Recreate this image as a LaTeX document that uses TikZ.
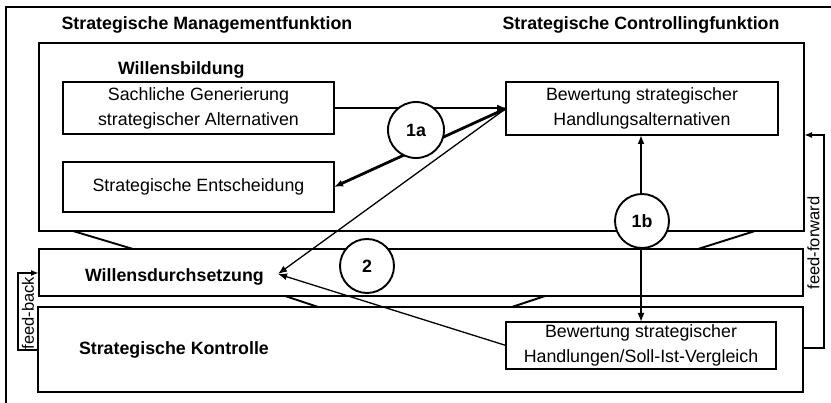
\documentclass[tikz,border=0pt]{standalone}
\usepackage{fontspec}
\setmainfont{Liberation Sans}
\usetikzlibrary{arrows.meta,calc}
\begin{document}
\begin{tikzpicture}[x=1pt,y=-1pt,
  every node/.style={inner sep=0pt,outer sep=0pt,font=\fontsize{17.8}{25}\selectfont},
  bigbox/.style={draw,line width=1.9pt},
  box/.style={draw,fill=white,line width=1.9pt,align=center},
  title/.style={font=\fontsize{17.8}{25}\selectfont\bfseries},
  lbl/.style={font=\fontsize{16.5}{20}\selectfont,rotate=90},
  circ/.style={circle,draw,fill=white,line width=1.9pt,font=\fontsize{17.8}{25}\selectfont\bfseries},
  trap/.style={line width=1.9pt},
  thickarr/.style={line width=2.8pt,-{Latex[length=9pt,width=7pt]}},
  thinarr/.style={line width=1.3pt,-{Latex[length=9pt,width=7pt]}},
  fbarr/.style={line width=2.1pt,-{Latex[length=8pt,width=6pt]}}
]
\useasboundingbox (0,0) rectangle (831,403);
% outer frame (cropped at right and bottom)
\draw[line width=1.7pt] (6,403) -- (6,7) -- (831,7);

% large bands
\node[bigbox,minimum width=765pt,minimum height=188pt] (wb) at (421.5,137) {};
\node[bigbox,minimum width=764pt,minimum height=47pt] (wd) at (421,272.5) {};
\node[bigbox,minimum width=765pt,minimum height=85pt] (sk) at (420.5,349.5) {};

% titles
\node[title,anchor=base] (tm) at (207,30) {Strategische Managementfunktion};
\node[title,anchor=base] (tc) at (641,30) {Strategische Controllingfunktion};
\node[title,anchor=base west] (lwb) at (118,74.5) {Willensbildung};
\node[title,anchor=base west] (lwd) at (85,282) {Willensdurchsetzung};
\node[title,anchor=base west] (lsk) at (79,355) {Strategische Kontrolle};

% trapezoid lines between bands
\coordinate (t1) at (73,231);  \coordinate (t2) at (133,249);
\coordinate (t3) at (755,231); \coordinate (t4) at (698,249);
\coordinate (t5) at (285,296); \coordinate (t6) at (318,307);
\coordinate (t7) at (545,296); \coordinate (t8) at (512,307);
\draw[trap] (t1) -- (t2);
\draw[trap] (t3) -- (t4);
\draw[trap] (t5) -- (t6);
\draw[trap] (t7) -- (t8);

% inner boxes
\node[box,minimum width=271pt,minimum height=52pt] (sach) at (198.5,108) {Sachliche Generierung\\strategischer Alternativen};
\node[box,minimum width=271pt,minimum height=50pt] (ent) at (198.5,187) {Strategische Entscheidung};
\node[box,minimum width=272pt,minimum height=53pt] (bew1) at (642,108.5) {Bewertung strategischer\\Handlungsalternativen};
\node[box,minimum width=270pt,minimum height=47pt] (bew2) at (641,345.5) {Bewertung strategischer\\Handlungen/Soll-Ist-Vergleich};

% connectors
\coordinate (wdp) at (278,274);
\draw[thickarr] (sach.east) -- (sach.east -| bew1.west);
\draw[thickarr] (bew1.west) -- (ent.east);
\draw[thinarr] (bew1.west) -- (wdp);
\draw[thinarr] (bew2.west) -- (wdp);
\draw[thickarr,{Latex[length=9pt,width=7pt]}-{Latex[length=9pt,width=7pt]}] (bew2.north) -- (bew2.north |- bew1.south);

% feed-forward
\coordinate (ff1) at (824,348);
\coordinate (ff2) at (824,135);
\draw[fbarr] (sk.east |- ff1) -- (ff1) -- (ff2) -- (wb.east |- ff2);
\node[lbl] (ffl) at (813.5,243) {feed-forward};

% feed-back
\coordinate (fb1) at (18,350);
\coordinate (fb2) at (18,273);
\draw[fbarr] (sk.west |- fb1) -- (fb1) -- (fb2) -- (wd.west |- fb2);
\node[lbl] (fbl) at (28,313) {feed-back};

% circles
\node[circ,minimum size=56pt] (c1a) at (416,130) {1a};
\node[circ,minimum size=54pt] (c1b) at (642,221) {1b};
\node[circ,minimum size=54pt] (c2) at (367,266) {2};
\end{tikzpicture}
\end{document}
